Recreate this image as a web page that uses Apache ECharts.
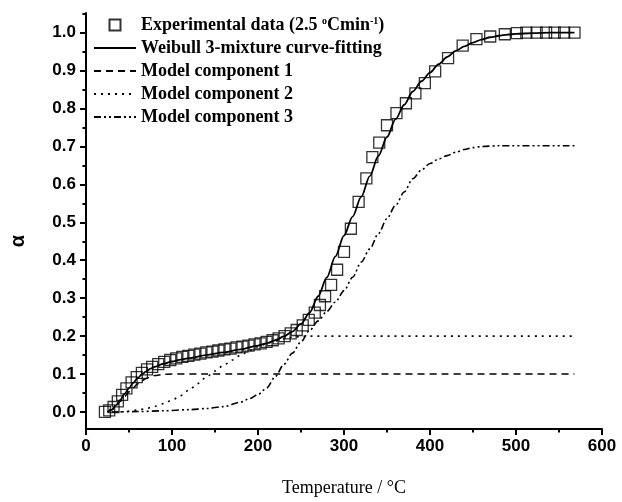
<!DOCTYPE html>
<html>
<head>
<meta charset="utf-8">
<script src="https://cdn.jsdelivr.net/npm/echarts@6/dist/echarts.min.js"></script>
<style>
html,body{margin:0;padding:0;background:#fff;}
#chart{width:622px;height:502px;}
</style>
</head>
<body>
<div id="chart"></div>
<script>
// ---- data ----
var expT = [22,27,32,37,42,47,53,59,65,71,77,84,91,98,105,112,119,126,133,140,147,154,161,168,175,182,189,196,203,210,217,224,231,238,245,252,259,266,272,278,285,292,300,308,317,326,333,341,350,361,372,383,394,406,421,438,454,470,487,501,512,524,535,545,556,568];
var expAlpha = [0.000,0.004,0.013,0.028,0.045,0.062,0.078,0.092,0.103,0.112,0.119,0.126,0.132,0.137,0.141,0.145,0.148,0.151,0.154,0.157,0.159,0.162,0.165,0.167,0.170,0.172,0.175,0.178,0.181,0.185,0.189,0.194,0.200,0.207,0.216,0.228,0.243,0.262,0.282,0.305,0.335,0.375,0.422,0.483,0.554,0.616,0.672,0.710,0.756,0.788,0.814,0.840,0.867,0.898,0.933,0.966,0.983,0.990,0.996,0.999,1.0,1.0,1.0,1.0,1.0,1.0];

var fitT = [25,30,35,40,45,50,55,60,65,70,75,80,90,100,110,120,140,160,180,200,210,220,230,240,250,260,270,280,290,300,310,320,330,340,350,360,370,380,390,400,410,420,430,440,450,460,470,480,490,500,520,540,568];
var fitAlpha = [0,0.006,0.018,0.032,0.048,0.063,0.077,0.089,0.099,0.107,0.114,0.119,0.127,0.133,0.138,0.142,0.150,0.157,0.165,0.175,0.181,0.189,0.199,0.212,0.232,0.262,0.305,0.355,0.41,0.465,0.515,0.567,0.622,0.675,0.725,0.772,0.81,0.845,0.872,0.895,0.917,0.936,0.952,0.964,0.974,0.982,0.988,0.992,0.995,0.997,0.999,1.0,1.0];

var comp1T = [25,30,35,40,45,50,55,60,65,70,75,80,90,100,568];
var comp1Alpha = [0,0.006,0.016,0.028,0.041,0.053,0.064,0.074,0.082,0.088,0.093,0.096,0.099,0.1,0.1];

var comp2T = [40,50,60,70,80,90,100,110,120,130,140,150,160,170,180,190,200,210,220,230,240,250,260,568];
var comp2Alpha = [0,0.002,0.005,0.009,0.015,0.022,0.031,0.043,0.058,0.075,0.092,0.108,0.123,0.137,0.150,0.162,0.172,0.180,0.187,0.193,0.197,0.199,0.2,0.2];

var comp3T = [30,60,90,120,140,160,180,190,200,210,220,230,240,250,260,270,280,290,300,310,320,330,340,350,360,370,380,390,400,410,420,430,440,450,460,480,568];
var comp3Alpha = [0,0.001,0.003,0.006,0.009,0.014,0.026,0.035,0.046,0.063,0.093,0.125,0.155,0.185,0.215,0.24,0.265,0.29,0.32,0.355,0.395,0.43,0.47,0.51,0.545,0.58,0.615,0.638,0.655,0.667,0.676,0.685,0.692,0.697,0.7,0.702,0.702];

var yTickLabels = [0,0.1,0.2,0.3,0.4,0.5,0.6,0.7,0.8,0.9,1.0];
var yMinorTicks = [0.05,0.15,0.25,0.35,0.45,0.55,0.65,0.75,0.85,0.95,1.05];

var names = {
  exp: 'Experimental data (2.5 °Cmin-1)',
  fit: 'Weibull 3-mixture curve-fitting',
  c1: 'Model component 1',
  c2: 'Model component 2',
  c3: 'Model component 3'
};

function zip(a, b) { return a.map(function (v, i) { return [v, b[i]]; }); }

var sansBold = { fontFamily: 'Liberation Sans', fontWeight: 'bold', fontSize: 17, color: '#000' };
var hidden = { color: 'rgba(0,0,0,0)', borderWidth: 0 };

var chart = echarts.init(document.getElementById('chart'), null, { renderer: 'canvas' });
chart.setOption({
  animation: false,
  backgroundColor: '#fff',
  grid: { left: 86, right: 20, top: 13, bottom: 73, containLabel: false },
  legend: {
    orient: 'vertical',
    left: 93,
    top: 16,
    padding: 0,
    itemWidth: 42,
    itemHeight: 11,
    itemGap: 5,
    symbolKeepAspect: true,
    data: [
      { name: names.exp, icon: 'path://M0 0H10V10H0Z' },
      names.fit, names.c1, names.c2, names.c3
    ],
    formatter: function (n) {
      if (n === names.exp) return '{t|Experimental data (2.5 }{s|o}{t|Cmin}{s|-1}{t|)}';
      return n;
    },
    textStyle: {
      fontFamily: 'Liberation Serif', fontWeight: 'bold', fontSize: 18, color: '#000', lineHeight: 18,
      rich: {
        t: { fontFamily: 'Liberation Serif', fontWeight: 'bold', fontSize: 18, color: '#000', lineHeight: 18 },
        s: { fontFamily: 'Liberation Serif', fontWeight: 'bold', fontSize: 10, color: '#000', lineHeight: 18, verticalAlign: 'top' }
      }
    }
  },
  xAxis: {
    type: 'value', min: 0, max: 600, interval: 100,
    name: 'Temperature / °C', nameLocation: 'middle', nameGap: 50,
    nameTextStyle: { fontFamily: 'Liberation Serif', fontSize: 18, color: '#000' },
    axisLine: { show: true, onZero: false, lineStyle: { color: '#000', width: 2 } },
    axisTick: { show: true, inside: false, length: 6, lineStyle: { color: '#000', width: 2 } },
    minorTick: { show: true, splitNumber: 2, length: 3.5, lineStyle: { color: '#000', width: 2 } },
    axisLabel: Object.assign({ margin: 9 }, sansBold),
    splitLine: { show: false }
  },
  yAxis: [{
    type: 'value', min: -0.045, max: 1.052,
    name: 'α', nameLocation: 'middle', nameGap: 58, nameRotate: 90,
    nameTextStyle: { fontFamily: 'Liberation Sans', fontWeight: 'bold', fontSize: 20, color: '#000', padding: [0, 40, 0, 0] },
    axisLine: { show: true, onZero: false, lineStyle: { color: '#000', width: 2 } },
    axisTick: { show: true, inside: false, length: 6, customValues: yTickLabels, lineStyle: { color: '#000', width: 2 } },
    axisLabel: Object.assign({ margin: 10, customValues: yTickLabels, formatter: function (v) { return v.toFixed(1); } }, sansBold),
    splitLine: { show: false }
  }, {
    type: 'value', min: -0.045, max: 1.052, position: 'left', offset: 0,
    axisLine: { show: false },
    axisTick: { show: true, inside: false, length: 3.5, customValues: yMinorTicks, lineStyle: { color: '#000', width: 2 } },
    axisLabel: { show: false },
    splitLine: { show: false }
  }],
  series: [
    {
      name: names.exp, type: 'scatter', data: zip(expT, expAlpha),
      symbol: 'rect', symbolSize: 11,
      itemStyle: { color: 'rgba(0,0,0,0)', borderColor: '#000', borderWidth: 1.3 },
      z: 3
    },
    {
      name: names.fit, type: 'line', data: zip(fitT, fitAlpha), symbol: 'none',
      smooth: 0.3, smoothMonotone: 'x',
      lineStyle: { color: '#000', width: 1.8, type: 'solid' }, itemStyle: hidden, z: 4
    },
    {
      name: names.c1, type: 'line', data: zip(comp1T, comp1Alpha), symbol: 'none',
      smooth: 0.3, smoothMonotone: 'x',
      lineStyle: { color: '#000', width: 1.5, type: [7, 5] }, itemStyle: hidden
    },
    {
      name: names.c2, type: 'line', data: zip(comp2T, comp2Alpha), symbol: 'none',
      smooth: 0.3, smoothMonotone: 'x',
      lineStyle: { color: '#000', width: 1.6, type: [2, 5] }, itemStyle: hidden
    },
    {
      name: names.c3, type: 'line', data: zip(comp3T, comp3Alpha), symbol: 'none',
      smooth: 0.3, smoothMonotone: 'x',
      lineStyle: { color: '#000', width: 1.6, type: [7, 3, 2, 3, 2, 3] }, itemStyle: hidden
    }
  ]
});
</script>
</body>
</html>
